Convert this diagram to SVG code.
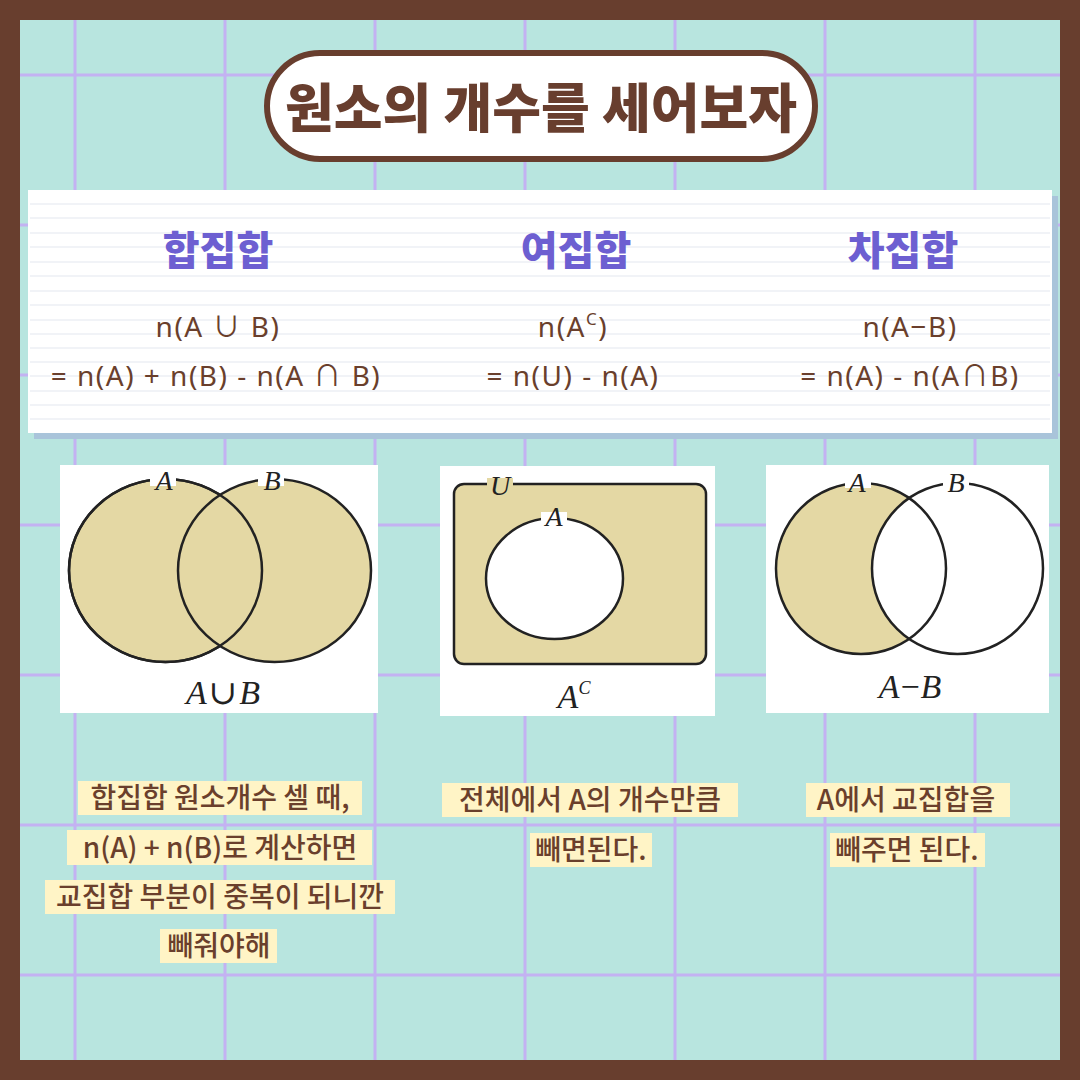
<svg xmlns="http://www.w3.org/2000/svg" width="1080" height="1080" viewBox="0 0 1080 1080">
<style>
.grid{stroke:#c3b2f2;stroke-width:3}
.h{font-family:"Noto Sans CJK KR","Noto Sans",sans-serif;font-weight:900;fill:#6d5fd1;font-size:40px;text-anchor:middle}
.f{font-family:"Noto Sans","Noto Sans CJK KR",sans-serif;fill:#6a3f2c;font-size:28px;letter-spacing:1.5px;text-anchor:middle}
.b{font-family:"Noto Sans CJK KR",sans-serif;font-weight:500;fill:#6a3f2c;font-size:28px;text-anchor:middle}
.hl{fill:#fff4c6}
.m{font-family:"Liberation Serif","DejaVu Serif",serif;font-style:italic;fill:#222;font-size:28px;text-anchor:middle}
.ml{font-family:"Liberation Serif","DejaVu Serif",serif;font-style:italic;fill:#222;font-size:34px;text-anchor:middle}
.sh{fill:#e4d8a4;stroke:#222;stroke-width:2.5}
.ln{fill:none;stroke:#222;stroke-width:2.5}
.rule{stroke:#eceff5;stroke-width:1.5}
</style>
<rect width="1080" height="1080" fill="#683e2e"/>
<rect x="20" y="20" width="1040" height="1040" fill="#b8e5df"/>
<g id="grid">
<line class="grid" x1="75" y1="20" x2="75" y2="1060"/>
<line class="grid" x1="225" y1="20" x2="225" y2="1060"/>
<line class="grid" x1="375" y1="20" x2="375" y2="1060"/>
<line class="grid" x1="525" y1="20" x2="525" y2="1060"/>
<line class="grid" x1="675" y1="20" x2="675" y2="1060"/>
<line class="grid" x1="825" y1="20" x2="825" y2="1060"/>
<line class="grid" x1="975" y1="20" x2="975" y2="1060"/>
<line class="grid" x1="20" y1="75" x2="1060" y2="75"/>
<line class="grid" x1="20" y1="225" x2="1060" y2="225"/>
<line class="grid" x1="20" y1="375" x2="1060" y2="375"/>
<line class="grid" x1="20" y1="525" x2="1060" y2="525"/>
<line class="grid" x1="20" y1="675" x2="1060" y2="675"/>
<line class="grid" x1="20" y1="825" x2="1060" y2="825"/>
<line class="grid" x1="20" y1="975" x2="1060" y2="975"/>
</g>
<g id="title">
<rect x="267" y="53" width="548" height="106" rx="53" fill="#fff" stroke="#683e2e" stroke-width="6"/>
<text x="541" y="128" font-family="'Noto Sans CJK KR',sans-serif" font-weight="900" font-size="53" fill="#683e2e" text-anchor="middle">원소의 개수를 세어보자</text>
</g>
<g id="panel">
<rect x="34" y="196" width="1024" height="243" fill="#a9c4da"/>
<rect x="28" y="190" width="1024" height="243" fill="#fff"/>
<g>
<line class="rule" x1="30" y1="204" x2="1050" y2="204"/>
<line class="rule" x1="30" y1="218" x2="1050" y2="218"/>
<line class="rule" x1="30" y1="233" x2="1050" y2="233"/>
<line class="rule" x1="30" y1="247" x2="1050" y2="247"/>
<line class="rule" x1="30" y1="262" x2="1050" y2="262"/>
<line class="rule" x1="30" y1="276" x2="1050" y2="276"/>
<line class="rule" x1="30" y1="291" x2="1050" y2="291"/>
<line class="rule" x1="30" y1="305" x2="1050" y2="305"/>
<line class="rule" x1="30" y1="320" x2="1050" y2="320"/>
<line class="rule" x1="30" y1="334" x2="1050" y2="334"/>
<line class="rule" x1="30" y1="348" x2="1050" y2="348"/>
<line class="rule" x1="30" y1="362" x2="1050" y2="362"/>
<line class="rule" x1="30" y1="376" x2="1050" y2="376"/>
<line class="rule" x1="30" y1="391" x2="1050" y2="391"/>
<line class="rule" x1="30" y1="405" x2="1050" y2="405"/>
<line class="rule" x1="30" y1="419" x2="1050" y2="419"/>
</g>
</g>
<g id="union-head">
<text class="h" x="218" y="265">합집합</text>
<text class="f" x="218" y="337">n(A ∪ B)</text>
<text class="f" x="216" y="386">= n(A) + n(B) - n(A ∩ B)</text>
</g>
<g id="complement-head">
<text class="h" x="576" y="265">여집합</text>
<text class="f" x="573" y="337">n(A<tspan font-size="17" dy="-12">C</tspan><tspan dy="12">)</tspan></text>
<text class="f" x="573" y="386">= n(U) - n(A)</text>
</g>
<g id="difference-head">
<text class="h" x="903" y="265">차집합</text>
<text class="f" x="910" y="337">n(A−B)</text>
<text class="f" x="910" y="386">= n(A) - n(A∩B)</text>
</g>
<g id="union-diagram">
<rect x="60" y="465" width="318" height="248" fill="#fff"/>
<ellipse class="sh" cx="165.5" cy="570.5" rx="96.5" ry="91.5"/>
<ellipse class="sh" cx="274.5" cy="570.5" rx="96.5" ry="91.5"/>
<ellipse class="ln" cx="165.5" cy="570.5" rx="96.5" ry="91.5"/>
<rect x="150" y="474" width="26" height="12" fill="#fff"/>
<rect x="258" y="474" width="26" height="12" fill="#fff"/>
<text class="m" x="164" y="490">A</text>
<text class="m" x="272" y="490">B</text>
<text class="ml" x="223" y="704"><tspan>A</tspan><tspan font-style="normal" dx="2">∪</tspan><tspan dx="2">B</tspan></text>
</g>
<g id="complement-diagram">
<rect x="440" y="466" width="275" height="250" fill="#fff"/>
<rect x="454" y="484" width="252" height="180" rx="10" class="sh"/>
<ellipse cx="554.5" cy="578.5" rx="68.5" ry="60.5" fill="#fff" stroke="#222" stroke-width="2.5"/>
<rect x="487" y="478" width="26" height="12" fill="#e4d8a4"/>
<rect x="541" y="512" width="26" height="12" fill="#fff"/>
<text class="m" x="500" y="495">U</text>
<text class="m" x="554" y="526">A</text>
<text class="ml" x="574" y="708">A<tspan font-size="18" dy="-14">C</tspan></text>
</g>
<g id="difference-diagram">
<rect x="766" y="465" width="283" height="248" fill="#fff"/>
<ellipse cx="861" cy="568.5" rx="85" ry="85.5" fill="#e4d8a4"/>
<ellipse cx="957.5" cy="568.5" rx="85.5" ry="85.5" fill="#fff"/>
<ellipse class="ln" cx="861" cy="568.5" rx="85" ry="85.5"/>
<ellipse class="ln" cx="957.5" cy="568.5" rx="85.5" ry="85.5"/>
<rect x="845" y="476" width="26" height="12" fill="#fff"/>
<rect x="943" y="476" width="26" height="12" fill="#fff"/>
<text class="m" x="857" y="492">A</text>
<text class="m" x="956" y="492">B</text>
<text class="ml" x="910" y="698"><tspan>A</tspan><tspan font-style="normal" dx="1">−</tspan><tspan dx="1">B</tspan></text>
</g>
<g id="union-note">
<rect class="hl" x="78" y="781" width="284" height="34"/>
<rect class="hl" x="67" y="830" width="305" height="35"/>
<rect class="hl" x="45" y="880" width="350" height="34"/>
<rect class="hl" x="160" y="929" width="117" height="34"/>
<text class="b" x="220" y="808">합집합 원소개수 셀 때,</text>
<text class="b" x="220" y="858">n(A) + n(B)로 계산하면</text>
<text class="b" x="220" y="907">교집합 부분이 중복이 되니깐</text>
<text class="b" x="219" y="956">빼줘야해</text>
</g>
<g id="complement-note">
<rect class="hl" x="442" y="783" width="296" height="34"/>
<rect class="hl" x="530" y="833" width="122" height="34"/>
<text class="b" x="590" y="810">전체에서 A의 개수만큼</text>
<text class="b" x="591" y="860">빼면된다.</text>
</g>
<g id="difference-note">
<rect class="hl" x="806" y="783" width="204" height="34"/>
<rect class="hl" x="830" y="833" width="155" height="34"/>
<text class="b" x="906" y="810">A에서 교집합을</text>
<text class="b" x="907" y="860">빼주면 된다.</text>
</g>
</svg>
